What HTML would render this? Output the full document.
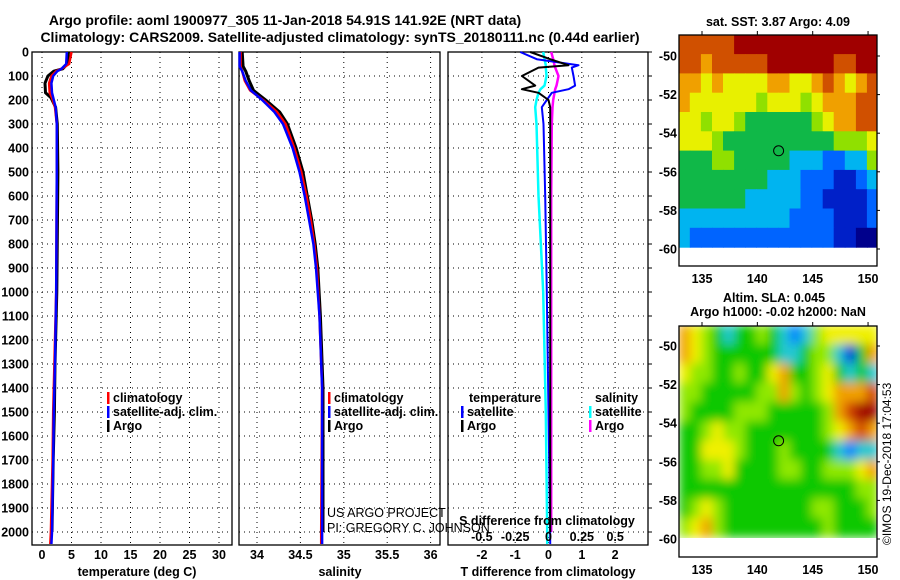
<!DOCTYPE html>
<html><head><meta charset="utf-8">
<style>
html,body{margin:0;padding:0;background:#fff;}
svg{display:block;font-family:"Liberation Sans",Arial,sans-serif;}
.b{font-weight:bold;font-size:12.5px;}
.t{font-weight:bold;font-size:14px;}
</style></head>
<body>
<svg id="s" width="900" height="580" viewBox="0 0 900 580" xmlns="http://www.w3.org/2000/svg">
<text class="t" x="285" y="25" text-anchor="middle">Argo profile: aoml 1900977_305 11-Jan-2018 54.91S 141.92E (NRT data)</text>
<text class="t" x="340" y="42" text-anchor="middle">Climatology: CARS2009. Satellite-adjusted climatology: synTS_20180111.nc (0.44d earlier)</text>
<text class="b" x="778" y="26" text-anchor="middle">sat. SST: 3.87 Argo: 4.09</text>
<text class="b" x="774" y="302" text-anchor="middle">Altim. SLA: 0.045</text>
<text class="b" x="778" y="316" text-anchor="middle">Argo h1000: -0.02 h2000: NaN</text>
<text x="891" y="545" font-size="12" transform="rotate(-90 891 545)">©IMOS 19-Dec-2018 17:04:53</text>
<g id="g"></g>
</svg>
<script>
// ---- profile data ----
const tDepth=[0,50,70,80,100,130,170,190,230,300,500,1000,1300,1500,1700,2000,2050];
const tArgo=[4.5,4.3,3.5,2.0,1.0,0.5,0.6,1.5,2.3,2.6,2.7,2.5,2.2,2.1,1.9,1.7,null];
const tClim=[5.0,4.6,3.3,2.4,1.6,1.2,1.3,1.7,2.2,2.5,2.5,2.4,2.1,1.9,1.8,1.5,1.4];
const tSat=[4.2,4.1,3.3,2.6,1.9,1.6,1.7,1.9,2.3,2.5,2.5,2.4,2.2,2.0,1.9,1.7,1.6];
const sDepth=[0,60,80,120,160,200,250,300,400,500,600,700,800,900,1100,1400,2000,2050];
const sArgo=[33.83,33.84,33.87,33.91,33.96,34.10,34.26,34.35,34.45,34.53,34.58,34.63,34.67,34.70,34.73,34.76,34.76,null];
const sClim=[33.81,33.81,33.83,33.86,33.92,34.07,34.23,34.33,34.43,34.51,34.57,34.62,34.66,34.69,34.72,34.75,34.74,34.74];
const sSat=[33.80,33.80,33.83,33.87,33.93,34.06,34.20,34.30,34.41,34.49,34.55,34.60,34.65,34.68,34.72,34.75,34.75,34.75];
const dDepth=[0,30,55,65,100,140,155,170,200,230,300,600,1000,1500,2000,2050];
const dTArgo=[-0.55,0.05,0.6,-0.3,-0.8,-0.4,-0.8,-0.3,0.0,0.05,0.05,0.05,0.05,0.05,0.05,null];
const dTSat=[-0.85,-0.35,0.9,0.7,0.75,0.8,0.6,0.1,-0.05,-0.2,-0.15,-0.1,-0.05,0.0,0.05,0.05];
const dSArgo=[0.02,0.035,0.045,0.05,0.075,0.06,0.05,0.045,0.035,0.03,0.025,0.02,0.02,0.02,0.02,null];
const dSSat=[-0.04,-0.03,-0.02,-0.02,-0.015,-0.03,-0.06,-0.075,-0.09,-0.1,-0.09,-0.075,-0.04,-0.02,-0.01,-0.01];
const depthTicks=[0,100,200,300,400,500,600,700,800,900,1000,1100,1200,1300,1400,1500,1600,1700,1800,1900,2000];
const tTicks=[0,5,10,15,20,25,30];
const sTicks=[34,34.5,35,35.5,36];
const sTickLabels=["34","34.5","35","35.5","36"];
const dTicks=[-2,-1,0,1,2];
const dSTicks=[-0.5,-0.25,0,0.25,0.5];
const dSTickLabels=["-0.5","-0.25","0","0.25","0.5"];
// ---- map data (values 0..9 index into colour scale), rows lat -49..-60, cols lon 133..150 ----
const mapLon=[133,134,135,136,137,138,139,140,141,142,143,144,145,146,147,148,149,150];
const mapLat=[-49,-50,-51,-52,-53,-54,-55,-56,-57,-58,-59];
const sstGrid=[
[8,8,8,8,8,9,9,9,9,9,9,9,9,9,9,9,9,9],
[8,8,7,8,8,8,8,8,9,9,9,9,9,9,8,8,9,9],
[7,7,6,7,6,6,6,6,7,7,6,6,7,8,7,6,7,8],
[7,6,6,6,6,6,6,5,6,6,6,5,6,7,7,7,8,8],
[6,6,5,6,6,5,4,4,4,4,4,4,5,6,7,7,8,8],
[6,6,6,5,4,4,4,4,4,4,4,4,4,4,5,5,5,6],
[4,4,4,5,5,4,4,4,4,4,3,3,3,2,2,3,3,5],
[4,4,4,4,4,4,4,4,3,3,3,2,2,2,1,1,2,3],
[4,4,4,4,4,4,3,3,3,3,3,2,2,1,1,1,1,2],
[3,3,3,3,3,3,3,3,3,3,2,2,2,2,1,1,1,2],
[3,2,2,2,2,2,2,2,2,2,2,2,2,2,1,1,0,0]];
const slaGrid=[
[7,6,5,4,3,4,4,5,4,3,2,3,5,6,6,6,6,6],
[7,6,5,4,4,4,4,4,4,3,3,4,5,5,3,1,4,7],
[6,5,5,4,4,5,4,4,6,7,4,4,5,6,4,3,4,3],
[5,5,4,4,4,4,4,5,5,7,5,4,5,6,7,7,7,8],
[5,4,4,4,4,5,5,5,4,4,4,4,4,5,7,8,9,9],
[4,4,5,6,5,5,4,4,4,4,4,4,4,5,6,7,8,7],
[4,4,6,6,6,5,4,4,4,5,4,4,4,4,3,2,3,3],
[4,4,5,5,6,4,4,4,4,5,5,4,4,5,5,5,6,7],
[4,4,4,4,4,4,4,4,4,4,4,4,4,4,4,4,5,5],
[4,5,6,5,4,4,4,4,4,4,4,4,5,5,4,4,4,5],
[5,6,7,5,4,4,4,4,4,4,4,4,4,5,4,4,4,4]];
const sstPal=["#00008c","#0020c8","#0064ff","#00b4f0","#10b848","#90e000","#e8f000","#f0a000","#d05000","#a00000"];
const slaPal=["#00008c","#0030e0","#0080ff","#20c8d0","#10c800","#90e800","#f0f000","#f0a000","#d04000","#a00000"];
const floatLon=141.92, floatLat=-54.91;
const lonTicks=[135,140,145,150];
const latTicks=[-50,-52,-54,-56,-58,-60];

const NS="http://www.w3.org/2000/svg";
const G=document.getElementById('g');
function el(tag,attrs,parent){const e=document.createElementNS(NS,tag);for(const k in attrs)e.setAttribute(k,attrs[k]);(parent||G).appendChild(e);return e;}
const Y0=52, YB=545;
const yD=d=>Y0+d*0.24;
const panels=[
 {name:'temperature',x0:32,x1:232,f:v=>42+v*5.9},
 {name:'salinity',x0:239,x1:440,f:v=>257+(v-34)*86.8},
 {name:'difference',x0:448,x1:648,f:v=>548.5+v*33.3}
];
function grid(p,ticks){
  ticks.forEach(v=>{const x=p.f(v);
    const l=el('line',{x1:x,x2:x,y1:Y0,y2:YB,stroke:'#000','stroke-dasharray':'1,4','stroke-width':1});
    
    });
  depthTicks.forEach(d=>{const y=yD(d);
    const l=el('line',{x1:p.x0,x2:p.x1,y1:y,y2:y,stroke:'#000','stroke-dasharray':'1,4','stroke-width':1});
    
    });
}
grid(panels[0],tTicks);grid(panels[1],sTicks);grid(panels[2],dTicks);
panels.forEach(p=>{
  const r=el('rect',{x:p.x0,y:Y0,width:p.x1-p.x0,height:YB-Y0,fill:'none',stroke:'#000','stroke-width':1.3});
  
  
});
function series(p,depths,vals,color,name,w){
  let pts=[];const segs=[];
  depths.forEach((d,i)=>{if(vals[i]===null){if(pts.length)segs.push(pts);pts=[];}else pts.push(p.f(vals[i]).toFixed(1)+','+yD(d).toFixed(1));});
  if(pts.length)segs.push(pts);
  segs.forEach(s=>{const l=el('polyline',{points:s.join(' '),fill:'none',stroke:color,'stroke-width':w||2.5,'stroke-linejoin':'round'});
    
    });
}
series(panels[0],tDepth,tArgo,'#000','temperature-argo-line',3);
series(panels[0],tDepth,tClim,'#f00','temperature-climatology-line');
series(panels[0],tDepth,tSat,'#00f','temperature-satellite-line');
series(panels[1],sDepth,sArgo,'#000','salinity-argo-line',3);
series(panels[1],sDepth,sClim,'#f00','salinity-climatology-line');
series(panels[1],sDepth,sSat,'#00f','salinity-satellite-line');
const pS={name:'ds',x0:448,x1:648,f:v=>548.5+v*133.3};
series(pS,dDepth,dSArgo,'#f0f','s-diff-argo-line');
series(pS,dDepth,dSSat,'#0ff','s-diff-satellite-line');
series(panels[2],dDepth,dTSat,'#00f','t-diff-satellite-line',2);
series(panels[2],dDepth,dTArgo,'#000','t-diff-argo-line',2);
// y tick labels
depthTicks.forEach(d=>{const t=el('text',{x:29,y:yD(d)+4.5,'text-anchor':'end',class:'b'});t.textContent=d;
  
  
  const k=el('line',{x1:648,x2:652,y1:yD(d),y2:yD(d),stroke:'#000'});
  
  });
function xlabels(p,ticks,labels,y){ticks.forEach((v,i)=>{const t=el('text',{x:p.f(v),y:y,'text-anchor':'middle',class:'b'});t.textContent=labels?labels[i]:v;
  
  });}
xlabels(panels[0],tTicks,null,559);
xlabels(panels[1],sTicks,sTickLabels,559);
xlabels(panels[2],dTicks,null,559);
xlabels(pS,dSTicks,dSTickLabels,541);
[['temperature (deg C)',137,'temperature-axis-title'],['salinity',340,'salinity-axis-title'],['T difference from climatology',548,'t-diff-axis-title']].forEach(a=>{
  const t=el('text',{x:a[1],y:576,'text-anchor':'middle',class:'b'});t.textContent=a[0];
  
  });
const sd=el('text',{x:547,y:525,'text-anchor':'middle',class:'b'});sd.textContent='S difference from climatology';


[['US ARGO PROJECT',517],['PI: GREGORY C. JOHNSON',532]].forEach((a,i)=>{const t=el('text',{x:327,y:a[1],'font-size':12.5});t.textContent=a[0];
  
  });
function leg(x,y,color,txt){
  const r=el('rect',{x:x,y:y-10,width:2.5,height:12,fill:color});
  
  
  const t=el('text',{x:x+6,y:y,class:'b'});t.textContent=txt;
  
  }
leg(107,402,'#f00','climatology');leg(107,416,'#00f','satellite-adj. clim.');leg(107,430,'#000','Argo');
leg(328,402,'#f00','climatology');leg(328,416,'#00f','satellite-adj. clim.');leg(328,430,'#000','Argo');
const th=el('text',{x:469,y:402,class:'b'});th.textContent='temperature';


const sh=el('text',{x:595,y:402,class:'b'});sh.textContent='salinity';


leg(461,416,'#00f','satellite');leg(461,430,'#000','Argo');
leg(589,416,'#0ff','satellite');leg(589,430,'#f0f','Argo');

// ---- maps ----
function drawMap(id,top,bottom,latRef,grid,pal,blur){
  const x0=679,x1=877,pxLon=11.07,pxLat=19.3;
  const fx=l=>702+(l-135)*pxLon, fy=l=>latRef+(-50-l)*pxLat;
  const cp=el('clipPath',{id:id+'clip'});el('rect',{x:x0,y:top,width:x1-x0,height:fy(-60)-top},cp);
  const g=el('g',{'clip-path':'url(#'+id+'clip)'});
  
  
  const inner=el('g',blur?{filter:'url(#'+id+'blur)'}:{},g);
  if(blur){const f=el('filter',{id:id+'blur',x:'0',y:'0',width:'1',height:'1'});el('feGaussianBlur',{stdDeviation:blur,edgeMode:'duplicate'},f);}
  mapLat.forEach((la,r)=>mapLon.forEach((lo,c)=>{
    const x=fx(lo-0.1),y=fy(la+0.1);
    const cell=el('rect',{x:x.toFixed(1),y:y.toFixed(1),width:pxLon+0.6,height:pxLat+0.6,fill:pal[grid[r][c]]},inner);
    
    
  }));
  const fr=el('rect',{x:x0,y:top,width:x1-x0,height:bottom-top,fill:'none',stroke:'#000','stroke-width':1.3});
  
  
  const c=el('circle',{cx:fx(floatLon),cy:fy(floatLat),r:5,fill:'none',stroke:'#000','stroke-width':1});
  
  
  lonTicks.forEach(l=>{const t=el('text',{x:fx(l),y:bottom+17,'text-anchor':'middle',class:'b'});t.textContent=l;
    
    
    el('line',{x1:fx(l),x2:fx(l),y1:top,y2:top-4,stroke:'#000'});});
  latTicks.forEach(l=>{const t=el('text',{x:677,y:fy(l)+4.5,'text-anchor':'end',class:'b'});t.textContent=l;
    
    
    el('line',{x1:x1,x2:x1+3,y1:fy(l),y2:fy(l),stroke:'#000'});});
}
drawMap('sst',35,266,56,sstGrid,sstPal,0);
drawMap('sla',326,557,346,slaGrid,slaPal,5);
</script>
</body></html>
